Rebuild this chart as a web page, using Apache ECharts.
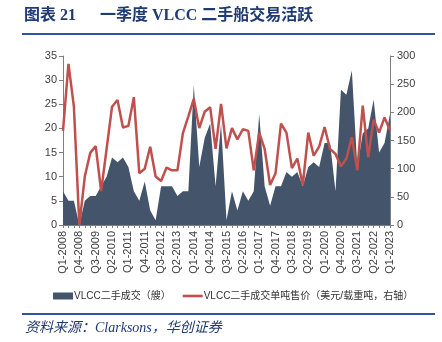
<!DOCTYPE html>
<html><head><meta charset="utf-8">
<script src="https://cdn.jsdelivr.net/npm/echarts@6/dist/echarts.min.js"></script>
<style>html,body{margin:0;padding:0;background:#fff}#c{width:442px;height:342px}</style>
</head><body><div id="c"></div>
<script>
const quarters = ["Q1-2008","Q2-2008","Q3-2008","Q4-2008","Q1-2009","Q2-2009","Q3-2009","Q4-2009",
"Q1-2010","Q2-2010","Q3-2010","Q4-2010","Q1-2011","Q2-2011","Q3-2011","Q4-2011",
"Q1-2012","Q2-2012","Q3-2012","Q4-2012","Q1-2013","Q2-2013","Q3-2013","Q4-2013",
"Q1-2014","Q2-2014","Q3-2014","Q4-2014","Q1-2015","Q2-2015","Q3-2015","Q4-2015",
"Q1-2016","Q2-2016","Q3-2016","Q4-2016","Q1-2017","Q2-2017","Q3-2017","Q4-2017",
"Q1-2018","Q2-2018","Q3-2018","Q4-2018","Q1-2019","Q2-2019","Q3-2019","Q4-2019",
"Q1-2020","Q2-2020","Q3-2020","Q4-2020","Q1-2021","Q2-2021","Q3-2021","Q4-2021",
"Q1-2022","Q2-2022","Q3-2022","Q4-2022","Q1-2023"];
const shipsSold = [7,5,5,0,5,6,6,8,10,14,13,14,12,7,5,9,3,1,8,8,8,6,7,7,29,12,18,21,8,21,1,7,3,7,5,7,23,8,4,8,8,11,10,11,8,12,13,12,17,17,7,28,27,32,12,19,20,26,15,17,23];
const pricePerDwt = [167,286,210,0,86,128,140,60,135,210,222,173,176,227,92,100,139,86,78,102,97,97,163,193,224,172,201,209,135,215,136,172,152,170,167,97,164,135,71,92,180,164,101,118,71,164,123,139,174,135,126,104,118,156,97,212,120,187,164,191,168];
const leftTicks = {min:0, max:35, interval:5};
const rightTicks = {min:0, max:300, interval:50};
const seriesNames = ["VLCC二手成交（艘）","VLCC二手成交单吨售价（美元/载重吨，右轴）"];

const navy = "#44546A", red = "#C0504D", dark = "#1F3B73";
const chart = echarts.init(document.getElementById('c'), null, {renderer:'canvas'});
const axisFont = {fontSize:11, color:'#404040', fontFamily:'Liberation Sans, Arial, sans-serif'};
chart.setOption({
  animation:false,
  graphic:[
    {type:'text', left:24, top:8, style:{text:'图表 21', font:'bold 16px "Liberation Serif","Noto Sans CJK SC",serif', fill:dark}},
    {type:'text', left:100, top:8, style:{text:'一季度 VLCC 二手船交易活跃', font:'bold 16px "Liberation Serif","Noto Sans CJK SC",serif', fill:dark}},
    {type:'rect', shape:{x:22, y:33, width:413, height:2}, style:{fill:'#2E5597'}},
    {type:'rect', shape:{x:22, y:313, width:413, height:2}, style:{fill:'#2E5597'}},
    {type:'text', left:25, top:321, style:{text:'资料来源：Clarksons，华创证券', font:'italic 14px "Liberation Serif","Noto Sans CJK SC",serif', fill:dark}}
  ],
  grid:{left:63, right:52, top:56, bottom:117},
  legend:{
    top:286, left:48, itemWidth:20, itemHeight:7, itemGap:12,
    textStyle:{fontSize:10, color:'#333', fontFamily:'Liberation Sans, "Noto Sans CJK SC", sans-serif', padding:[0,0,0,-4]},
    data:[{name:seriesNames[0], icon:'rect'}, {name:seriesNames[1], icon:'path://M0,0H20V2.6H0Z'}]
  },
  xAxis:{
    type:'category', data:quarters, boundaryGap:false,
    axisLine:{lineStyle:{color:'#7f7f7f'}},
    axisTick:{show:true, interval:0, length:3, lineStyle:{color:'#7f7f7f'}},
    axisLabel:Object.assign({interval:2, rotate:90, margin:6}, axisFont),
    splitLine:{show:false}
  },
  yAxis:[
    Object.assign({type:'value', position:'left',
      axisLine:{show:true, lineStyle:{color:'#7f7f7f'}},
      axisTick:{show:true, length:4, lineStyle:{color:'#7f7f7f'}},
      axisLabel:Object.assign({margin:6}, axisFont), splitLine:{show:false}}, leftTicks),
    Object.assign({type:'value', position:'right',
      axisLine:{show:true, lineStyle:{color:'#7f7f7f'}},
      axisTick:{show:true, length:4, lineStyle:{color:'#7f7f7f'}},
      axisLabel:Object.assign({margin:7}, axisFont), splitLine:{show:false}}, rightTicks)
  ],
  series:[
    {name:seriesNames[0], type:'line', yAxisIndex:0, data:shipsSold, symbol:'none', showSymbol:false,
     lineStyle:{width:0, color:navy}, itemStyle:{color:navy}, areaStyle:{color:navy, opacity:1}, z:1},
    {name:seriesNames[1], type:'line', yAxisIndex:1, data:pricePerDwt, symbol:'none', showSymbol:false,
     lineStyle:{width:2.5, color:red}, itemStyle:{color:red}, z:3}
  ]
});
</script></body></html>
